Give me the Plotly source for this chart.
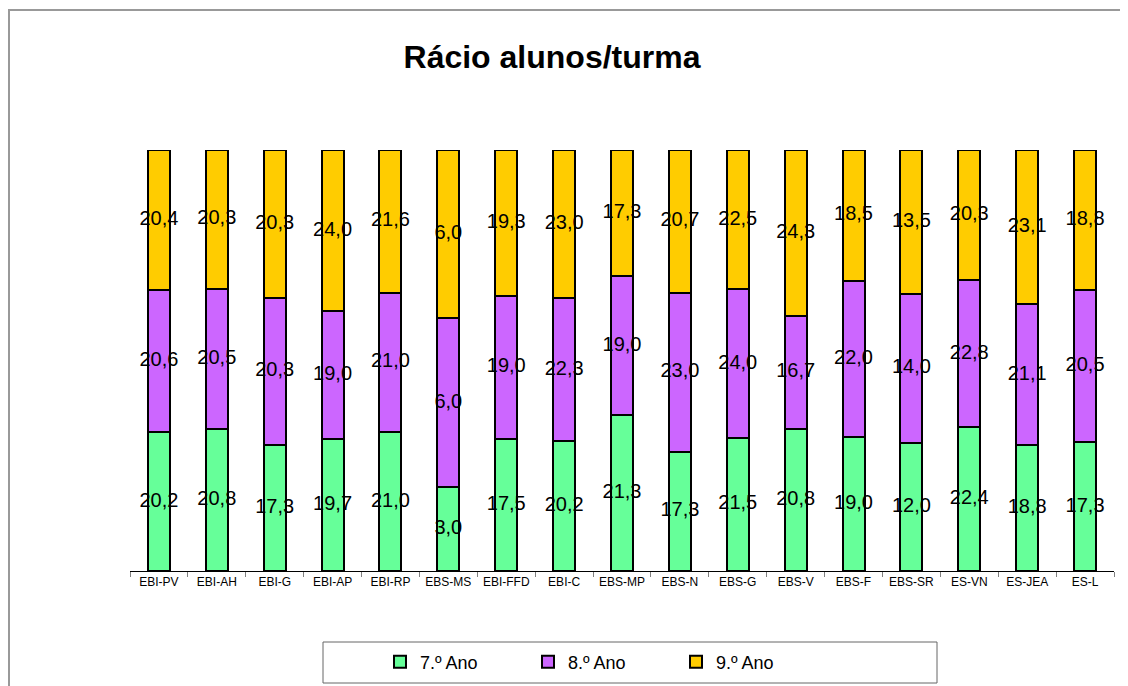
import plotly.graph_objects as go

categories = ["EBI-PV", "EBI-AH", "EBI-G", "EBI-AP", "EBI-RP", "EBS-MS", "EBI-FFD", "EBI-C",
              "EBS-MP", "EBS-N", "EBS-G", "EBS-V", "EBS-F", "EBS-SR", "ES-VN", "ES-JEA", "ES-L"]
ano7 = [20.2, 20.8, 17.3, 19.7, 21.0, 3.0, 17.5, 20.2, 21.3, 17.3, 21.5, 20.8, 19.0, 12.0, 22.4, 18.8, 17.3]
ano8 = [20.6, 20.5, 20.3, 19.0, 21.0, 6.0, 19.0, 22.3, 19.0, 23.0, 24.0, 16.7, 22.0, 14.0, 22.8, 21.1, 20.5]
ano9 = [20.4, 20.3, 20.3, 24.0, 21.6, 6.0, 19.3, 23.0, 17.3, 20.7, 22.5, 24.3, 18.5, 13.5, 20.3, 23.1, 18.8]
series_names = ["7.º Ano", "8.º Ano", "9.º Ano"]
series_values = [ano7, ano8, ano9]
colors = ["#66FF99", "#CC66FF", "#FFCC00"]

W, H = 1128, 686
OFF = 8  # page body margin
L, R = 130 - OFF, W - (1114 - OFF)
T, B = 150 - OFF, H - (571 - OFF)
pw, ph = W - L - R, H - T - B

def px_x(p):
    return (p - OFF - L) / pw

def px_y(p):
    return (H - B - (p - OFF)) / ph

FONT = "Liberation Sans, Arial, sans-serif"

fig = go.Figure()
for name, vals, col in zip(series_names, series_values, colors):
    fig.add_trace(go.Bar(
        x=categories, y=vals, name=name,
        marker=dict(color=col, line=dict(color="black", width=2)),
        width=0.38, hoverinfo="skip",
    ))

# data labels at segment midpoints (percent scale)
totals = [a + b + c for a, b, c in zip(ano7, ano8, ano9)]
cum = [0.0] * len(categories)
for vals in series_values:
    mids = []
    for i, v in enumerate(vals):
        mids.append((cum[i] + v / 2) / totals[i] * 100)
        cum[i] += v
    fig.add_trace(go.Scatter(
        x=categories, y=mids, mode="text",
        text=[f"{v:.1f}".replace(".", ",") for v in vals],
        textfont=dict(family=FONT, size=20, color="black"),
        showlegend=False, hoverinfo="skip",
    ))

fig.update_layout(
    width=W, height=H,
    margin=dict(l=L, r=R, t=T, b=B, autoexpand=False),
    barmode="stack", barnorm="percent",
    paper_bgcolor="white", plot_bgcolor="white",
    title=dict(text="<b>Rácio alunos/turma</b>", x=(552 - OFF) / W, xanchor="center",
               y=1 - (57 - OFF) / H, yanchor="middle",
               font=dict(family=FONT, size=32, color="black")),
    xaxis=dict(showline=True, linecolor="black", linewidth=1,
               ticks="outside", tickson="boundaries", ticklen=5, tickcolor="#808080",
               tickfont=dict(family=FONT, size=12, color="black"),
               showgrid=False, range=[-0.5, len(categories) - 0.5]),
    yaxis=dict(range=[0, 100], visible=False, showgrid=False, zeroline=False),
    legend=dict(orientation="h", x=px_x(380), xanchor="left", y=px_y(662), yanchor="middle",
                traceorder="normal",
                font=dict(family=FONT, size=18, color="black"),
                entrywidth=103, entrywidthmode="pixels",
                bgcolor="rgba(0,0,0,0)", borderwidth=0,
                itemclick=False, itemdoubleclick=False),
    shapes=[
        dict(type="rect", xref="paper", yref="paper",
             x0=px_x(OFF + 1), x1=px_x(1150), y0=px_y(710), y1=px_y(10),
             line=dict(color="#999999", width=2), fillcolor="rgba(0,0,0,0)", layer="below"),
        dict(type="rect", xref="paper", yref="paper",
             x0=px_x(323), x1=px_x(937), y0=px_y(683), y1=px_y(642),
             line=dict(color="#666666", width=1), fillcolor="rgba(0,0,0,0)"),
    ],
)

fig.write_html("out.html")
